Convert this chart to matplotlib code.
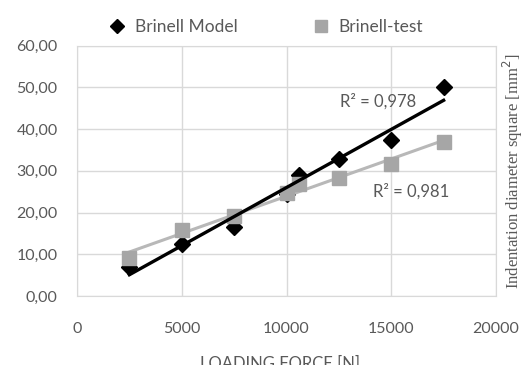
import numpy as np
import matplotlib
matplotlib.use("Agg")
import matplotlib.pyplot as plt
from matplotlib.ticker import FuncFormatter

# values
force = [2500, 5000, 7500, 10000, 10600, 12500, 15000, 17500]
model = [7.0, 12.5, 16.6, 24.5, 29.0, 32.8, 37.3, 50.0]
test = [9.0, 15.8, 19.2, 24.8, 26.8, 28.4, 31.6, 36.9]
r2_model = "R² = 0,978"
r2_test = "R² = 0,981"

txt = "#595959"
grid = "#d9d9d9"
plt.rcParams["font.family"] = ["Lato", "DejaVu Sans"]

fig = plt.figure(figsize=(5.24, 3.65), dpi=100)
ax = fig.add_axes([77/524, 1-296/365, (496-77)/524, (296-45.7)/365])

x = np.array(force, dtype=float)
ax.plot(x, model, ls="none", marker="D", ms=8.5, color="black", zorder=3, label="Brinell Model")
ax.plot(x, test, ls="none", marker="s", ms=10, color="#a6a6a6", zorder=5, label="Brinell-test")

xs = np.array([x.min(), x.max()])
pm = np.polyfit(x, model, 1)
pt = np.polyfit(x, test, 1)
ax.plot(xs, np.polyval(pt, xs), color="#b8b8b8", lw=2.2, zorder=4)
ax.plot(xs, np.polyval(pm, xs), color="black", lw=2.4, zorder=6)

ax.text(14370, 46.6, r2_model, color=txt, fontsize=12, ha="center", va="center")
ax.text(15950, 25.0, r2_test, color=txt, fontsize=12, ha="center", va="center")

ax.set_xlim(0, 20000)
ax.set_ylim(0, 60)
ax.set_xticks(range(0, 20001, 5000))
ax.set_yticks(range(0, 61, 10))
ax.yaxis.set_major_formatter(FuncFormatter(lambda v, p: f"{v:.2f}".replace(".", ",")))
ax.grid(True, color=grid, lw=1)
ax.set_axisbelow(True)
for s in ax.spines.values():
    s.set_color(grid)
ax.tick_params(length=0, labelsize=11.5, labelcolor=txt)
ax.tick_params(axis="y", pad=14)
ax.tick_params(axis="x", pad=19)

ax.legend(loc="lower center", bbox_to_anchor=(0.44, 1.0), ncol=2, frameon=False,
          fontsize=12.5, labelcolor=txt, handletextpad=0.0, columnspacing=3.8,
          borderaxespad=0.2, markerscale=0.85)

fig.text(280/524, 1-356/365, "LOADING FORCE [N]", color=txt, fontsize=12, ha="center", va="top")
fig.text(513/524, 1-171/365, "Indentation diameter square [mm$^2$]", color=txt, rotation=90,
         fontsize=12, family="Liberation Serif", ha="center", va="center")

fig.savefig("out.png", dpi=100)
